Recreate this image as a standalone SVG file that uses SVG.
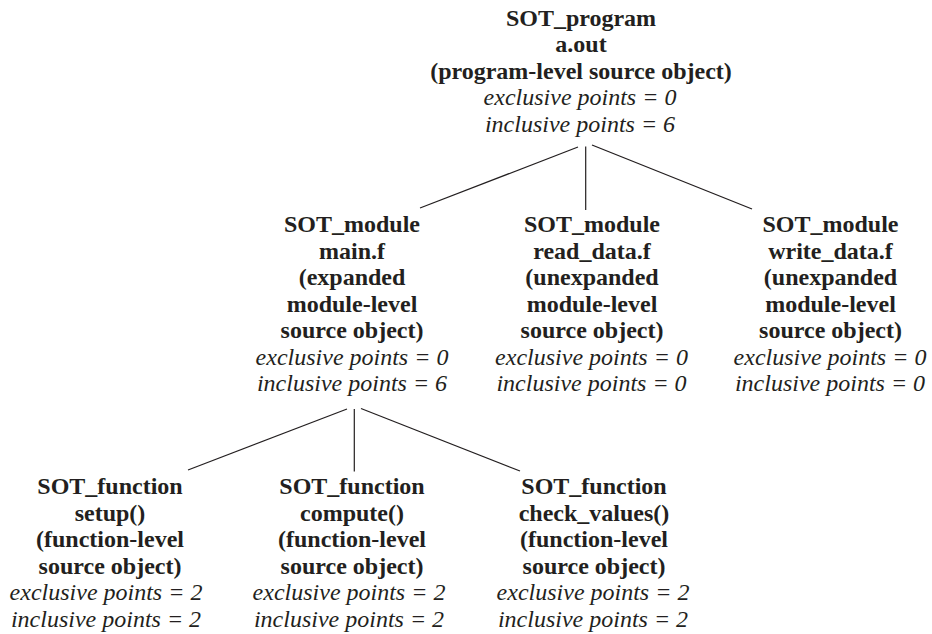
<svg xmlns="http://www.w3.org/2000/svg" width="932" height="634" viewBox="0 0 932 634">
  <style>
    text { font-family: 'Liberation Serif', 'Times New Roman', Times, 'Nimbus Roman', 'Tinos', 'Noto Serif', 'FreeSerif', 'DejaVu Serif', serif; font-size: 24px; fill: #231f20; text-anchor: middle; }
    .b { font-weight: bold; }
    .i { font-style: italic; }
    .edge { stroke: #231f20; stroke-width: 1.2; fill: none; }
  </style>
  <rect width="932" height="634" fill="#ffffff"/>

  <!-- tree edges -->
  <g id="connectors">
    <line class="edge" x1="578" y1="147" x2="420" y2="208"/>
    <line class="edge" x1="585.7" y1="146.5" x2="585.7" y2="210"/>
    <line class="edge" x1="592" y1="145" x2="752" y2="209"/>
    <line class="edge" x1="347" y1="409" x2="188" y2="470"/>
    <line class="edge" x1="354.3" y1="409" x2="354.3" y2="471.5"/>
    <line class="edge" x1="361" y1="408.5" x2="520" y2="471"/>
  </g>

  <!-- program level -->
  <g id="sot-program">
    <text class="b" x="581" y="26">SOT_program</text>
    <text class="b" x="581" y="52.4">a.out</text>
    <text class="b" x="581" y="78.8">(program-level source object)</text>
    <text class="i" x="580" y="105.2">exclusive points = 0</text>
    <text class="i" x="580" y="131.6">inclusive points = 6</text>
  </g>

  <!-- module level -->
  <g id="module-main">
    <text class="b" x="352" y="232">SOT_module</text>
    <text class="b" x="352" y="258.5">main.f</text>
    <text class="b" x="352" y="285">(expanded</text>
    <text class="b" x="352" y="311.5">module-level</text>
    <text class="b" x="352" y="338">source object)</text>
    <text class="i" x="352" y="364.5">exclusive points = 0</text>
    <text class="i" x="352" y="391">inclusive points = 6</text>
  </g>
  <g id="module-read-data">
    <text class="b" x="592" y="232">SOT_module</text>
    <text class="b" x="592" y="258.5">read_data.f</text>
    <text class="b" x="592" y="285">(unexpanded</text>
    <text class="b" x="592" y="311.5">module-level</text>
    <text class="b" x="592" y="338">source object)</text>
    <text class="i" x="591.5" y="364.5">exclusive points = 0</text>
    <text class="i" x="591.5" y="391">inclusive points = 0</text>
  </g>
  <g id="module-write-data">
    <text class="b" x="830.5" y="232">SOT_module</text>
    <text class="b" x="830.5" y="258.5">write_data.f</text>
    <text class="b" x="830.5" y="285">(unexpanded</text>
    <text class="b" x="830.5" y="311.5">module-level</text>
    <text class="b" x="830.5" y="338">source object)</text>
    <text class="i" x="830" y="364.5">exclusive points = 0</text>
    <text class="i" x="830" y="391">inclusive points = 0</text>
  </g>

  <!-- function level -->
  <g id="function-setup">
    <text class="b" x="110" y="494">SOT_function</text>
    <text class="b" x="110" y="520.5">setup()</text>
    <text class="b" x="110" y="547">(function-level</text>
    <text class="b" x="110" y="573.5">source object)</text>
    <text class="i" x="106" y="600">exclusive points = 2</text>
    <text class="i" x="106" y="626.5">inclusive points = 2</text>
  </g>
  <g id="function-compute">
    <text class="b" x="352" y="494">SOT_function</text>
    <text class="b" x="352" y="520.5">compute()</text>
    <text class="b" x="352" y="547">(function-level</text>
    <text class="b" x="352" y="573.5">source object)</text>
    <text class="i" x="349" y="600">exclusive points = 2</text>
    <text class="i" x="349" y="626.5">inclusive points = 2</text>
  </g>
  <g id="function-check-values">
    <text class="b" x="594" y="494">SOT_function</text>
    <text class="b" x="594" y="520.5">check_values()</text>
    <text class="b" x="594" y="547">(function-level</text>
    <text class="b" x="594" y="573.5">source object)</text>
    <text class="i" x="593" y="600">exclusive points = 2</text>
    <text class="i" x="593" y="626.5">inclusive points = 2</text>
  </g>
</svg>
